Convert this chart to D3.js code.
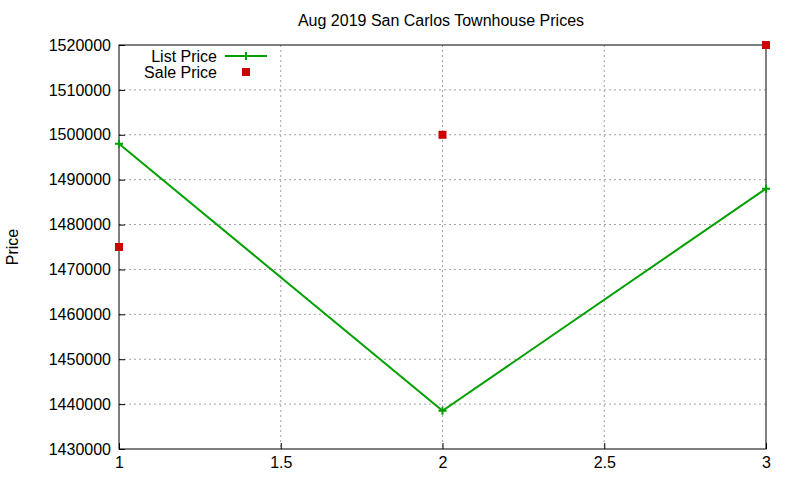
<!DOCTYPE html>
<html><head><meta charset="utf-8">
<script src="https://cdn.jsdelivr.net/npm/d3@7"></script>
<style>body{margin:0;background:#fff}svg{font-family:"Liberation Sans",Arial,sans-serif}</style>
</head><body><svg id="c" width="800" height="480"></svg>
<script>
var xs = [1, 2, 3];
var listPrice = [1498000, 1438500, 1488000];
var salePrice = [1475000, 1500000, 1520000];
var xTicks = [1, 1.5, 2, 2.5, 3];
var yTicks = [1430000, 1440000, 1450000, 1460000, 1470000, 1480000, 1490000, 1500000, 1510000, 1520000];

var L = 119, R = 766, T = 45, B = 449;
var FS = 16;
var svg = d3.select("#c");
var x = d3.scaleLinear().domain([1, 3]).range([L, R]);
var y = d3.scaleLinear().domain([1430000, 1520000]).range([B, T]);

// grid
svg.append("g").selectAll("line").data(xTicks.slice(1, -1)).enter().append("line")
  .attr("x1", d => x(d)).attr("x2", d => x(d)).attr("y1", T).attr("y2", B)
  .attr("stroke", "#a0a0a0").attr("stroke-dasharray", "2,3");
svg.append("g").selectAll("line").data(yTicks.slice(1, -1)).enter().append("line")
  .attr("x1", L).attr("x2", R).attr("y1", d => y(d)).attr("y2", d => y(d))
  .attr("stroke", "#a0a0a0").attr("stroke-dasharray", "2,3");

// axes
var xa = svg.append("g").attr("transform", "translate(0," + B + ")")
  .call(d3.axisBottom(x).tickValues(xTicks).tickSize(-6).tickPadding(8).tickFormat(d3.format("")));
var ya = svg.append("g").attr("transform", "translate(" + L + ",0)")
  .call(d3.axisLeft(y).tickValues(yTicks).tickSize(-6).tickPadding(8).tickFormat(d3.format("d")));
[xa, ya].forEach(function(a) {
  a.select(".domain").remove();
  a.selectAll("text").attr("font-size", FS).attr("fill", "#000").attr("font-family", "Liberation Sans, Arial, sans-serif");
  a.selectAll("line").attr("stroke", "#000");
});
svg.append("rect").attr("x", L).attr("y", T).attr("width", R - L).attr("height", B - T)
  .attr("fill", "none").attr("stroke", "#000");

// title and label
svg.append("text").attr("x", 441).attr("y", 26).attr("text-anchor", "middle").attr("font-size", FS).text("Aug 2019 San Carlos Townhouse Prices");
svg.append("text").attr("transform", "translate(18,247) rotate(-90)").attr("text-anchor", "middle").attr("font-size", FS).text("Price");

// list line
var green = "#00a000";
svg.append("path").datum(xs.map((d, i) => [d, listPrice[i]]))
  .attr("fill", "none").attr("stroke", green).attr("stroke-width", 2)
  .attr("d", d3.line().x(d => x(d[0])).y(d => y(d[1])));
function plus(g, cx, cy) {
  g.append("path").attr("d", "M" + (cx - 4) + "," + cy + "h8M" + cx + "," + (cy - 4) + "v8")
    .attr("stroke", green).attr("stroke-width", 2);
}
xs.forEach((d, i) => plus(svg, x(d), y(listPrice[i])));

// sale points
svg.selectAll(".s").data(xs).enter().append("rect")
  .attr("x", (d) => x(d) - 4).attr("y", (d, i) => y(salePrice[i]) - 4)
  .attr("width", 8).attr("height", 8).attr("fill", "#cc0000");

// legend
svg.append("text").attr("x", 217).attr("y", 62).attr("text-anchor", "end").attr("font-size", FS).text("List Price");
svg.append("line").attr("x1", 225).attr("x2", 267).attr("y1", 56).attr("y2", 56).attr("stroke", green).attr("stroke-width", 2);
plus(svg, 246, 56);
svg.append("text").attr("x", 217).attr("y", 78).attr("text-anchor", "end").attr("font-size", FS).text("Sale Price");
svg.append("rect").attr("x", 242).attr("y", 68).attr("width", 8).attr("height", 8).attr("fill", "#cc0000");
</script></body></html>
